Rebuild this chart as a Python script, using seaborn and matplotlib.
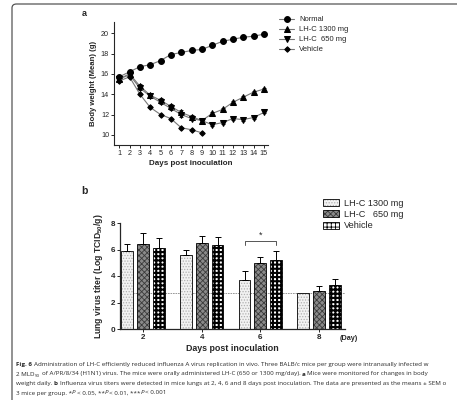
import numpy as np
import pandas as pd
import matplotlib
matplotlib.use("Agg")
import matplotlib.pyplot as plt
import seaborn as sns
from matplotlib.patches import FancyBboxPatch

sns.set_theme(style="ticks")
plt.rcParams['font.family'] = ['Liberation Sans', 'DejaVu Sans']
plt.rcParams['mathtext.fontset'] = 'custom'
plt.rcParams['mathtext.rm'] = 'Liberation Sans:bold'
plt.rcParams['mathtext.bf'] = 'Liberation Sans:bold'
plt.rcParams['hatch.linewidth'] = 0.6

# ---------------- data: panel a ----------------
days = list(range(1, 16))
normal = [15.7, 16.2, 16.7, 16.9, 17.3, 17.9, 18.1, 18.3, 18.4, 18.8, 19.2, 19.4, 19.6, 19.7, 19.9]
lhc1300 = [15.5, 16.0, 14.8, 13.9, 13.4, 12.8, 12.2, 11.8, 11.4, 12.1, 12.5, 13.2, 13.7, 14.2, 14.5]
lhc650 = [15.5, 15.9, 14.6, 13.8, 13.2, 12.6, 12.0, 11.6, 11.4, 11.0, 11.2, 11.6, 11.5, 11.7, 12.2]
vehicle_days = list(range(1, 10))
vehicle = [15.3, 15.7, 14.0, 12.7, 12.0, 11.6, 10.7, 10.5, 10.2]
err_a = [0.1, 0.1, 0.2, 0.2, 0.2, 0.2, 0.2, 0.15, 0.15, 0.1, 0.1, 0.1, 0.1, 0.1, 0.1]

# ---------------- data: panel b ----------------
b_days = [2, 4, 6, 8]
b_groups = ["LH-C 1300 mg", "LH-C   650 mg", "Vehicle"]
titer_1300 = [5.89, 5.58, 3.70, 2.70]
titer_650 = [6.41, 6.47, 4.96, 2.89]
titer_veh = [6.14, 6.31, 5.20, 3.30]
sem_1300 = [0.53, 0.42, 0.70, 0.0]
sem_650 = [0.86, 0.55, 0.45, 0.38]
sem_veh = [0.76, 0.61, 0.71, 0.45]
detect_limit = 2.7

# ---------------- caption pieces (text, style) ----------------
caption = [
    [("Fig. 6", "b"), ("Administration of LH-C efficiently reduced influenza A virus replication in vivo. Three BALB/c mice per group were intranasally infected w", "r")],
    [("2 MLD", "r"), ("50", "sub"), ("of A/PR/8/34 (H1N1) virus. The mice were orally administered LH-C (650 or 1300 mg/day).", "r"),
     ("a", "b"), ("Mice were monitored for changes in body", "r")],
    [("weight daily.", "r"), ("b", "b"), ("Influenza virus titers were detected in mice lungs at 2, 4, 6 and 8 days post inoculation. The data are presented as the means ± SEM o", "r")],
    [("3 mice per group. *", "r"), ("P", "i"), ("< 0.05, **", "r"), ("P", "i"), ("< 0.01, ***", "r"), ("P", "i"), ("< 0.001", "r")],
]

W, H = 457, 400
fig = plt.figure(figsize=(W / 100, H / 100), dpi=100)

def px_axes(l, t, r, b):
    return fig.add_axes([l / W, 1 - b / H, (r - l) / W, (b - t) / H])

# frame around the figure
frame = FancyBboxPatch((12 / W, -0.1), 1.2, (H - 4) / H + 0.1,
                       boxstyle="round,pad=0,rounding_size=0.01",
                       transform=fig.transFigure, fill=False, ec="#555555", lw=0.9)
fig.patches.append(frame)

# ---------------- panel a ----------------
axa = px_axes(114, 22, 268, 145)
line_col = "#777777"
series = [("Normal", days, normal, "o", 4.2),
          ("LH-C 1300 mg", days, lhc1300, "^", 3.8),
          ("LH-C  650 mg", days, lhc650, "v", 3.8),
          ("Vehicle", vehicle_days, vehicle, "D", 2.8)]
for name, x, y, m, ms in series:
    sns.lineplot(x=x, y=y, ax=axa, color=line_col, lw=0.8, marker=m, markersize=ms,
                 markerfacecolor="black", markeredgecolor="black", label=name)
for y in (lhc1300, lhc650):
    axa.errorbar(days, y, yerr=err_a, fmt="none", ecolor="black", elinewidth=0.6,
                 capsize=1.5, capthick=0.6)
axa.set_xlim(0.5, 15.4)
axa.set_ylim(9.0, 21.1)
axa.set_xticks(days)
axa.set_yticks([10, 12, 14, 16, 18, 20])
axa.tick_params(labelsize=5.2, length=2, width=0.7, pad=1.5)
for s in ("top", "right"):
    axa.spines[s].set_visible(False)
for s in ("left", "bottom"):
    axa.spines[s].set_linewidth(0.8)
axa.set_xlabel("Days post inoculation", fontsize=5.8, fontweight="bold", labelpad=2)
axa.set_ylabel("Body weight (Mean) (g)", fontsize=5.6, fontweight="bold", labelpad=3)
h, l = axa.get_legend_handles_labels()
axa.get_legend().remove()
fig.legend(h, l, loc="upper left", bbox_to_anchor=(276 / W, 1 - 13 / H), frameon=False,
           fontsize=5.5, handlelength=2.0, labelspacing=0.35, handletextpad=0.6, borderaxespad=0)
fig.text(82 / W, 1 - 13 / H, "a", fontsize=6.5, fontweight="bold", va="center")

# ---------------- panel b ----------------
axb = px_axes(120, 223, 345, 329)
df = pd.DataFrame({
    "day": b_days * 3,
    "group": [b_groups[0]] * 4 + [b_groups[1]] * 4 + [b_groups[2]] * 4,
    "titer": titer_1300 + titer_650 + titer_veh,
    "sem": sem_1300 + sem_650 + sem_veh,
})
sns.barplot(data=df, x="day", y="titer", hue="group", hue_order=b_groups, native_scale=True,
            width=0.81, gap=0.25, errorbar=None, ax=axb, edgecolor="black", linewidth=0.6,
            palette=["#f2f2f2", "#8a8a8a", "white"], legend=True)
hatches = ["......", "xxxxxx", "++++"]
hcols = ["#b0b0b0", "#3a3a3a", "black"]
hlw = [0.6, 0.6, 1.5]
bars = list(axb.patches)[:12]
for i, p in enumerate(bars):
    g = i // 4
    p.set_hatch(hatches[g])
    p._hatch_color = matplotlib.colors.to_rgba(hcols[g])
    if hasattr(p, "set_hatch_linewidth"):
        p.set_hatch_linewidth(hlw[g])
    xc = p.get_x() + p.get_width() / 2
    e = df["sem"].iloc[i]
    if e > 0:
        axb.errorbar([xc], [p.get_height()], yerr=[[0], [e]], fmt="none", ecolor="black",
                     elinewidth=0.7, capsize=2.5, capthick=0.7)
axb.axhline(detect_limit, color="#888888", lw=0.6, ls=(0, (2, 1)), zorder=0.5)
# significance bracket on day 6
x1 = bars[2].get_x() + bars[2].get_width() / 2
x3 = bars[10].get_x() + bars[10].get_width() / 2
axb.plot([x1, x1, x3, x3], [6.34, 6.66, 6.66, 6.34], color="#555555", lw=0.7)
axb.text((x1 + x3) / 2, 6.75, "*", ha="center", va="bottom", fontsize=6.5)
axb.set_xlim(1.22, 8.88)
axb.set_ylim(0, 8)
axb.set_xticks(b_days)
axb.set_yticks([0, 2, 4, 6, 8])
axb.tick_params(labelsize=5.8, length=2, width=0.7, pad=1.5)
for lab in axb.get_xticklabels() + axb.get_yticklabels():
    lab.set_fontweight("bold")
for s in ("top", "right"):
    axb.spines[s].set_visible(False)
for s in ("left", "bottom"):
    axb.spines[s].set_linewidth(0.9)
axb.set_xlabel("Days post inoculation", fontsize=6.4, fontweight="bold", labelpad=2)
axb.set_ylabel("Lung virus titer (Log TCID$_{50}$/g)", fontsize=6.2,
               fontweight="bold", labelpad=4)
fig.text(349 / W, 1 - 338 / H, "(Day)", fontsize=5.2, fontweight="bold", ha="center", va="center")
hb, lb = axb.get_legend_handles_labels()
axb.get_legend().remove()
for i, hh in enumerate(hb):
    hh.set_hatch(hatches[i])
    hh._hatch_color = matplotlib.colors.to_rgba(hcols[i])
    if hasattr(hh, "set_hatch_linewidth"):
        hh.set_hatch_linewidth(hlw[i])
fig.legend(hb, lb, loc="upper left", bbox_to_anchor=(319 / W, 1 - 195 / H), frameon=False,
           fontsize=6.6, handlelength=1.8, handleheight=0.8, labelspacing=0.25,
           handletextpad=0.5, borderaxespad=0)
fig.text(81 / W, 1 - 191 / H, "b", fontsize=7.5, fontweight="bold", va="center")

# ---------------- caption (chained text pieces) ----------------
cax = fig.add_axes([0, 0, 1, 1])
cax.set_axis_off()
cax.set_zorder(-1)
ccol = "#2a2a2a"


def build_caption(fs):
    space = 0.26 * fs
    styles = {"r": dict(), "b": dict(fontweight="bold"), "i": dict(fontstyle="italic"),
              "sub": dict(fontsize=fs * 0.7)}
    arts, lasts = [], []
    for k, pieces in enumerate(caption):
        y = 1 - (366 + 9.5 * k) / H
        prev = None
        base = None
        for j, (txt, st) in enumerate(pieces):
            kw = dict(fontsize=fs, family="Open Sans", color=ccol, annotation_clip=False)
            kw.update(styles[st])
            if prev is None:
                t = cax.annotate(txt, xy=(16 / W, y), xycoords="axes fraction",
                                 ha="left", va="baseline", **kw)
                base = t
            else:
                prev_st = pieces[j - 1][1]
                gap = 0.0
                if st not in ("sub", "i") and prev_st != "i":
                    gap = space
                if prev_st == "sub":
                    gap = space
                if prev_st == "i" and st == "r":
                    gap = space * 0.6
                if st == "sub":
                    t = cax.annotate(txt, xy=(1, 0), xycoords=prev, xytext=(0.2, -1.0),
                                     textcoords="offset points", ha="left", va="bottom", **kw)
                else:
                    t = cax.annotate(txt, xy=(1, 0), xycoords=(prev, base), xytext=(gap, 0),
                                     textcoords="offset points", ha="left", va="bottom", **kw)
                    base = t
            arts.append(t)
            prev = t
        lasts.append(prev)
    return arts, lasts


fs = 4.75
arts, lasts = build_caption(fs)
fig.canvas.draw()
r = fig.canvas.get_renderer()
right = max(a.get_window_extent(r).x1 for a in lasts)
if right > W - 2:
    for a in arts:
        a.remove()
    fs = fs * (W - 2 - 16) / (right - 16)
    arts, lasts = build_caption(fs)

fig.savefig("out.png", dpi=100)
